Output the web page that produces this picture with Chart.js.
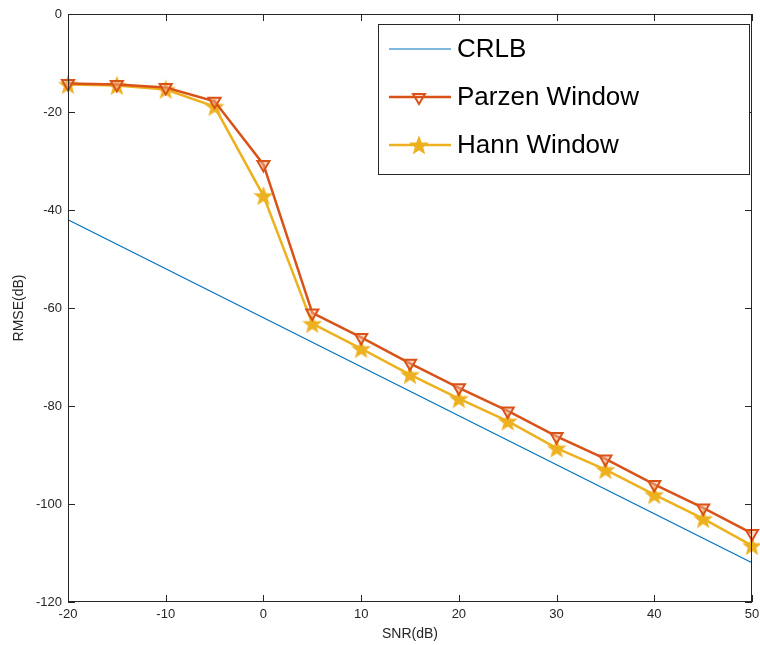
<!DOCTYPE html>
<html>
<head>
<meta charset="utf-8">
<script src="https://cdn.jsdelivr.net/npm/chart.js@4"></script>
<style>
  html, body { margin: 0; padding: 0; background: #fff; }
  #wrap { width: 760px; height: 645px; }
</style>
</head>
<body>
<div id="wrap"><canvas id="chart" width="760" height="645"></canvas></div>
<script>
// values
let snr = [-20, -15, -10, -5, 0, 5, 10, 15, 20, 25, 30, 35, 40, 45, 50];
let crlb = [-42, -47, -52, -57, -62, -67, -72, -77, -82, -87, -92, -97, -102, -107, -112];
let parzen = [-14.2, -14.4, -15.0, -17.8, -30.7, -61.0, -66.0, -71.3, -76.3, -81.0, -86.2, -90.8, -96.0, -100.8, -106.0];
let hann = [-14.4, -14.6, -15.4, -18.9, -37.1, -63.2, -68.3, -73.6, -78.5, -83.1, -88.6, -93.0, -98.1, -103.0, -108.5];
let xTicks = [-20, -10, 0, 10, 20, 30, 40, 50];
let yTicks = [-120, -100, -80, -60, -40, -20, 0];

const blue = "#0072BD";
const orange = "#D95319";
const yellow = "#EDB120";
const axisColor = "#262626";
const fontFam = "'Liberation Sans', Arial, sans-serif";

function toXY(ys) {
    return snr.map((x, i) => ({ x: x, y: ys[i] }));
}

function starPath(ctx, cx, cy, r) {
    ctx.beginPath();
    for (let i = 0; i < 10; i++) {
        let rr = i % 2 == 0 ? r : r * 0.42;
        let a = -Math.PI / 2 + i * Math.PI / 5;
        let px = cx + rr * Math.cos(a);
        let py = cy + rr * Math.sin(a);
        if (i == 0) ctx.moveTo(px, py); else ctx.lineTo(px, py);
    }
    ctx.closePath();
}

function makeStar(size) {
    let c = document.createElement("canvas");
    c.width = size;
    c.height = size;
    let g = c.getContext("2d");
    starPath(g, size / 2, size / 2 + 0.8, size / 2 - 1.5);
    g.fillStyle = yellow;
    g.fill();
    g.lineWidth = 1.5;
    g.strokeStyle = yellow;
    g.stroke();
    return c;
}
let starImg = makeStar(20);

const frame = {
    id: "frame",
    afterDraw(chart) {
        let ctx = chart.ctx;
        let a = chart.chartArea;
        let xs = chart.scales.x, ys = chart.scales.y;
        ctx.save();
        ctx.strokeStyle = axisColor;
        ctx.lineWidth = 1;
        ctx.strokeRect(a.left + 0.5, a.top + 0.5, a.right - a.left - 1, a.bottom - a.top - 1);
        xTicks.forEach(v => {
            let px = Math.round(xs.getPixelForValue(v)) + 0.5;
            ctx.beginPath();
            ctx.moveTo(px, a.bottom); ctx.lineTo(px, a.bottom - 7);
            ctx.moveTo(px, a.top); ctx.lineTo(px, a.top + 7);
            ctx.stroke();
        });
        yTicks.forEach(v => {
            let py = Math.round(ys.getPixelForValue(v)) + 0.5;
            ctx.beginPath();
            ctx.moveTo(a.left, py); ctx.lineTo(a.left + 7, py);
            ctx.moveTo(a.right, py); ctx.lineTo(a.right - 7, py);
            ctx.stroke();
        });

        // legend box
        let lx = 378, ly = 24, lw = 371, lh = 150;
        ctx.fillStyle = "#fff";
        ctx.fillRect(lx, ly, lw, lh);
        ctx.strokeStyle = axisColor;
        ctx.strokeRect(lx + 0.5, ly + 0.5, lw, lh);
        let rows = [
            { label: "CRLB", color: blue, width: 1, y: 49 },
            { label: "Parzen Window", color: orange, width: 2.5, y: 97, marker: "tri" },
            { label: "Hann Window", color: yellow, width: 2.5, y: 145, marker: "star" }
        ];
        ctx.font = "26px " + fontFam;
        ctx.textBaseline = "middle";
        rows.forEach(r => {
            ctx.strokeStyle = r.color;
            ctx.lineWidth = r.width;
            ctx.beginPath();
            ctx.moveTo(389, r.y); ctx.lineTo(451, r.y);
            ctx.stroke();
            if (r.marker == "tri") {
                ctx.lineWidth = 2;
                ctx.beginPath();
                ctx.moveTo(413, r.y - 3); ctx.lineTo(425, r.y - 3); ctx.lineTo(419, r.y + 7);
                ctx.closePath();
                ctx.stroke();
            } else if (r.marker == "star") {
                ctx.drawImage(starImg, 419 - 10, r.y - 10);
            }
            ctx.fillStyle = "#000";
            ctx.fillText(r.label, 457, r.y + 1);
        });
        ctx.restore();
    }
};

let ctx = document.getElementById("chart").getContext("2d");
let chart = new Chart(ctx, {
    type: "line",
    data: {
        datasets: [
            {
                label: "CRLB",
                data: toXY(crlb),
                borderColor: blue,
                borderWidth: 1.2,
                pointRadius: 0
            },
            {
                label: "Parzen Window",
                data: toXY(parzen),
                borderColor: orange,
                backgroundColor: "rgba(255,255,255,0)",
                borderWidth: 2.5,
                pointStyle: "triangle",
                pointRotation: 180,
                pointRadius: 7,
                pointBorderWidth: 2,
                pointBackgroundColor: "rgba(240,180,150,0.5)",
                pointBorderColor: orange
            },
            {
                label: "Hann Window",
                data: toXY(hann),
                borderColor: yellow,
                borderWidth: 2.5,
                pointStyle: starImg,
                pointRadius: 9
            }
        ]
    },
    options: {
        responsive: false,
        animation: false,
        clip: false,
        layout: { autoPadding: false, padding: { top: 14, right: 8, left: 0, bottom: 0 } },
        plugins: {
            legend: { display: false },
            tooltip: { enabled: false }
        },
        scales: {
            x: {
                type: "linear",
                min: -20,
                max: 50,
                afterFit: s => { s.height = 43; s.paddingRight = 0; s.paddingLeft = 0; },
                afterBuildTicks: s => { s.ticks = xTicks.map(v => ({ value: v })); },
                grid: { display: false, drawTicks: false },
                border: { display: false },
                ticks: {
                    color: axisColor,
                    padding: 5,
                    maxRotation: 0,
                    font: { family: fontFam, size: 13 }
                },
                title: {
                    display: true,
                    text: "SNR(dB)",
                    color: axisColor,
                    padding: { top: 0, bottom: 2 },
                    font: { family: fontFam, size: 14 }
                }
            },
            y: {
                type: "linear",
                min: -120,
                max: 0,
                afterFit: s => { s.width = 68; },
                afterBuildTicks: s => { s.ticks = yTicks.map(v => ({ value: v })); },
                grid: { display: false, drawTicks: false },
                border: { display: false },
                ticks: {
                    color: axisColor,
                    padding: 6,
                    font: { family: fontFam, size: 13 }
                },
                title: {
                    display: true,
                    text: "RMSE(dB)",
                    color: axisColor,
                    padding: { top: 11, bottom: 0 },
                    font: { family: fontFam, size: 14 }
                }
            }
        }
    },
    plugins: [frame]
});
</script>
</body>
</html>
